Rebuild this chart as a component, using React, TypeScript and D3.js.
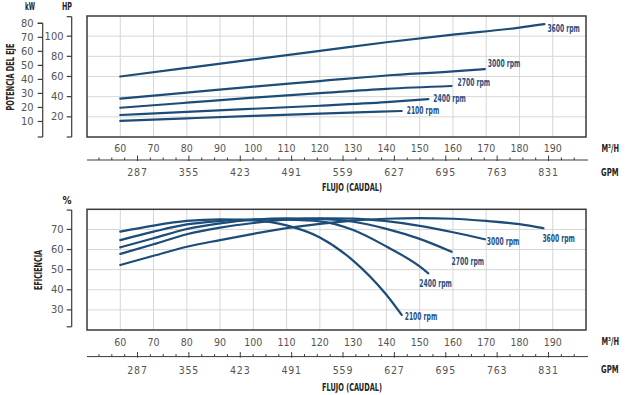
import * as d3 from "d3";

// chart values
const RPM_LABELS = ["3600 rpm", "3000 rpm", "2700 rpm", "2400 rpm", "2100 rpm"];
const FLOW_TICKS = [60, 70, 80, 90, 100, 110, 120, 130, 140, 150, 160, 170, 180, 190];
const GPM_MAJOR = [287, 355, 423, 491, 559, 627, 695, 763, 831];
const GPM_MINOR_STEP = 17;
const HP_TICKS = [20, 40, 60, 80, 100];
const KW_TICKS = [10, 20, 30, 40, 50, 60, 70, 80];
const EFF_TICKS = [30, 40, 50, 60, 70];

// shaft power, HP, by flow m3/h
const power3600: [number, number][] = [[60, 60], [80, 68.5], [100, 77], [120, 85.5], [140, 94], [160, 101.5], [180, 108.5], [187.5, 112]];
const power3000: [number, number][] = [[60, 38], [80, 44], [100, 50], [120, 55.5], [140, 61], [160, 65], [169.6, 67.4]];
const power2700: [number, number][] = [[60, 29], [80, 34], [100, 39], [120, 43.5], [140, 47.8], [159.6, 50.6]];
const power2400: [number, number][] = [[60, 21.8], [80, 25], [100, 28], [120, 31], [140, 34.5], [152.6, 37.5]];
const power2100: [number, number][] = [[60, 15.9], [80, 18.5], [100, 21], [120, 23.2], [144.6, 25.8]];

// efficiency, %, by flow m3/h
const eff3600: [number, number][] = [[60, 52.3], [70, 56.9], [80, 61.4], [90, 64.7], [100, 67.8], [110, 70.6], [120, 72.8], [130, 74.4], [140, 75.3], [150, 75.6], [160, 75.3], [170, 74.2], [180, 72.6], [187.2, 70.6]];
const eff3000: [number, number][] = [[60, 57.8], [70, 62.6], [80, 67.6], [90, 70.9], [100, 73.2], [110, 74.8], [120, 75.5], [130, 75.4], [140, 74.1], [150, 71.8], [160, 68.6], [169.6, 65.1]];
const eff2700: [number, number][] = [[60, 61.1], [70, 65.6], [80, 70.2], [90, 73], [100, 74.8], [110, 75.5], [120, 75.2], [130, 73.8], [140, 70.3], [150, 65.3], [159.6, 58.9]];
const eff2400: [number, number][] = [[60, 64.7], [70, 68.9], [80, 72.5], [90, 74.2], [100, 75], [110, 74.8], [120, 74], [130, 69.7], [140, 61.5], [150, 51.6], [152.6, 48.2]];
const eff2100: [number, number][] = [[60, 68.9], [70, 71.9], [80, 74.2], [90, 75], [100, 74.5], [110, 72], [120, 66], [130, 54.5], [140, 37.5], [144.6, 27.5]];

const powerSeries = [power3600, power3000, power2700, power2400, power2100];
const effSeries = [eff3600, eff3000, eff2700, eff2400, eff2100];

// label nudges (px) from curve ends
const POWER_LABEL_OFFSET = [[3, 4], [3, -6], [6, -3], [5, -1], [5, 0]];
const EFF_LABEL_OFFSET = [[-1, 10], [2, 2], [0, 10], [-9, 10], [3, 2]];

const WIDTH = 627;
const HEIGHT = 395;
const PLOT_LEFT = 87;
const PLOT_RIGHT = 586;
const TOP_PLOT = { top: 16, bottom: 137 };
const BOTTOM_PLOT = { top: 209.3, bottom: 330 };
const GPM_PER_M3H = 4.4029;

const FONT = "'DejaVu Sans Condensed', 'Liberation Sans Narrow', sans-serif";
const CURVE_COLOR = "#1c4c78";
const LABEL_COLOR = "#1f4f80";
const FRAME_COLOR = "#3a3a3a";
const GRID_COLOR = "#d6d6d6";
const TICK_TEXT = "#555";
const TITLE_TEXT = "#222";

const x = d3.scaleLinear().domain([50, 200]).range([PLOT_LEFT, PLOT_RIGHT]);
const gpm = d3.scaleLinear().domain([50 * GPM_PER_M3H, 200 * GPM_PER_M3H]).range([PLOT_LEFT, PLOT_RIGHT]);
const hp = d3.scaleLinear().domain([0, 120]).range([TOP_PLOT.bottom, TOP_PLOT.top]);
const kw = d3.scaleLinear().domain([0, 80]).range([135.5, 23.3]);
const eff = d3.scaleLinear().domain([20, 80]).range([BOTTOM_PLOT.bottom, BOTTOM_PLOT.top]);

const gpmMinor = d3.range(GPM_MAJOR[0] - 3 * GPM_MINOR_STEP, 870, GPM_MINOR_STEP);

function Bold({ x: tx, y, size = 10, len, anchor = "start", fill = TITLE_TEXT, rotate, children }: { x: number; y: number; size?: number; len?: number; anchor?: string; fill?: string; rotate?: boolean; children: React.ReactNode }) {
  return (
    <text
      x={tx}
      y={y}
      fill={fill}
      fontFamily={FONT}
      fontSize={size}
      fontWeight="700"
      textAnchor={anchor}
      dominantBaseline="central"
      textLength={len}
      lengthAdjust={len ? "spacingAndGlyphs" : undefined}
      transform={rotate ? `rotate(-90 ${tx} ${y})` : undefined}
    >
      {children}
    </text>
  );
}

function FlowAxis({ labelY, lineY, gpmY, titleY }: { labelY: number; lineY: number; gpmY: number; titleY: number }) {
  return (
    <g fontFamily={FONT}>
      {FLOW_TICKS.map((t) => (
        <text key={t} x={x(t)} y={labelY} fill={TICK_TEXT} fontSize="10.5" textAnchor="middle" dominantBaseline="central">
          {t}
        </text>
      ))}
      <line x1={PLOT_LEFT} x2={PLOT_RIGHT + 2} y1={lineY} y2={lineY} stroke={FRAME_COLOR} strokeWidth="1" />
      {gpmMinor.map((g) => {
        const major = GPM_MAJOR.includes(g);
        return <line key={g} x1={gpm(g)} x2={gpm(g)} y1={lineY - (major ? 4.5 : 2.5)} y2={lineY + (major ? 1 : 0)} stroke={FRAME_COLOR} strokeWidth="1" />;
      })}
      {GPM_MAJOR.map((g) => (
        <text key={g} x={gpm(g)} y={gpmY} fill={TICK_TEXT} fontSize="10.5" textAnchor="middle" dominantBaseline="central" letterSpacing="0.8">
          {g}
        </text>
      ))}
      <Bold x={601.5} y={labelY} len={17.5}>
        M³/H
      </Bold>
      <Bold x={601} y={gpmY} len={17.5}>
        GPM
      </Bold>
      <Bold x={352} y={titleY} size={11} len={60} anchor="middle">
        FLUJO (CAUDAL)
      </Bold>
    </g>
  );
}

function Grid({ top, bottom, yTicks, yScale }: { top: number; bottom: number; yTicks: number[]; yScale: d3.ScaleLinear<number, number> }) {
  return (
    <g>
      {FLOW_TICKS.map((t) => (
        <line key={t} x1={x(t)} x2={x(t)} y1={top} y2={bottom} stroke={GRID_COLOR} strokeWidth="1" />
      ))}
      {yTicks.map((t) => (
        <line key={t} x1={PLOT_LEFT} x2={PLOT_RIGHT} y1={yScale(t)} y2={yScale(t)} stroke={GRID_COLOR} strokeWidth="1" />
      ))}
    </g>
  );
}

function LeftAxis({ ax, ticks, scale, y0, y1, labelX }: { ax: number; ticks: number[]; scale: d3.ScaleLinear<number, number>; y0: number; y1: number; labelX: number }) {
  return (
    <g fontFamily={FONT}>
      <line x1={ax} x2={ax} y1={y0} y2={y1} stroke={FRAME_COLOR} strokeWidth="1.2" />
      <line x1={ax - 5} x2={ax} y1={y0} y2={y0} stroke={FRAME_COLOR} strokeWidth="1.2" />
      <line x1={ax - 5} x2={ax} y1={y1} y2={y1} stroke={FRAME_COLOR} strokeWidth="1.2" />
      {ticks.map((t) => (
        <g key={t}>
          <line x1={ax - 5} x2={ax} y1={scale(t)} y2={scale(t)} stroke={FRAME_COLOR} strokeWidth="1.2" />
          <text x={labelX} y={scale(t)} fill={TICK_TEXT} fontSize="11" textAnchor="end" dominantBaseline="central">
            {t}
          </text>
        </g>
      ))}
    </g>
  );
}

export default function App() {
  const powerLine = d3
    .line<[number, number]>()
    .x((d) => x(d[0]))
    .y((d) => hp(d[1]))
    .curve(d3.curveMonotoneX);
  const effLine = d3
    .line<[number, number]>()
    .x((d) => x(d[0]))
    .y((d) => eff(d[1]))
    .curve(d3.curveMonotoneX);

  return (
    <svg width={WIDTH} height={HEIGHT} viewBox={`0 0 ${WIDTH} ${HEIGHT}`} style={{ position: "absolute", left: 0, top: 0, background: "#fff" }}>
      <rect x="0" y="0" width={WIDTH} height={HEIGHT} fill="#fff" />

      {/* power chart */}
      <Grid top={TOP_PLOT.top} bottom={TOP_PLOT.bottom} yTicks={HP_TICKS} yScale={hp} />
      <rect x={PLOT_LEFT} y={TOP_PLOT.top} width={PLOT_RIGHT - PLOT_LEFT} height={TOP_PLOT.bottom - TOP_PLOT.top} fill="none" stroke={FRAME_COLOR} strokeWidth="1.5" />
      {powerSeries.map((s, i) => {
        const end = s[s.length - 1];
        return (
          <g key={RPM_LABELS[i]}>
            <path d={powerLine(s) ?? undefined} fill="none" stroke={CURVE_COLOR} strokeWidth="2.2" strokeLinecap="round" />
            <Bold x={x(end[0]) + POWER_LABEL_OFFSET[i][0]} y={hp(end[1]) + POWER_LABEL_OFFSET[i][1]} len={32.5} fill={LABEL_COLOR}>
              {RPM_LABELS[i]}
            </Bold>
          </g>
        );
      })}
      <LeftAxis ax={71.7} ticks={HP_TICKS} scale={hp} y0={hp(120) + 0.7} y1={hp(0)} labelX={63.5} />
      <LeftAxis ax={42.7} ticks={KW_TICKS} scale={kw} y0={kw(80)} y1={hp(0)} labelX={33.5} />
      <Bold x={30} y={6} anchor="middle" len={10}>
        kW
      </Bold>
      <Bold x={67} y={6} anchor="middle" len={10}>
        HP
      </Bold>
      <Bold x={10} y={77} size={11} anchor="middle" len={67} rotate>
        POTENCIA DEL EJE
      </Bold>
      <FlowAxis labelY={148.3} lineY={160} gpmY={172} titleY={187.5} />

      {/* efficiency chart */}
      <Grid top={BOTTOM_PLOT.top} bottom={BOTTOM_PLOT.bottom} yTicks={EFF_TICKS} yScale={eff} />
      <rect x={PLOT_LEFT} y={BOTTOM_PLOT.top} width={PLOT_RIGHT - PLOT_LEFT} height={BOTTOM_PLOT.bottom - BOTTOM_PLOT.top} fill="none" stroke={FRAME_COLOR} strokeWidth="1.5" />
      {effSeries.map((s, i) => {
        const end = s[s.length - 1];
        return (
          <g key={RPM_LABELS[i]}>
            <path d={effLine(s) ?? undefined} fill="none" stroke={CURVE_COLOR} strokeWidth="2.2" strokeLinecap="round" />
            <Bold x={x(end[0]) + EFF_LABEL_OFFSET[i][0]} y={eff(end[1]) + EFF_LABEL_OFFSET[i][1]} len={32.5} fill={LABEL_COLOR}>
              {RPM_LABELS[i]}
            </Bold>
          </g>
        );
      })}
      <LeftAxis ax={71.7} ticks={EFF_TICKS} scale={eff} y0={eff(79.6)} y1={eff(21.6)} labelX={63.5} />
      <Bold x={67} y={200} anchor="middle">
        %
      </Bold>
      <Bold x={38.5} y={270} size={11} anchor="middle" len={40} rotate>
        EFICIENCIA
      </Bold>
      <FlowAxis labelY={341.8} lineY={356.6} gpmY={369.5} titleY={387.5} />
    </svg>
  );
}
